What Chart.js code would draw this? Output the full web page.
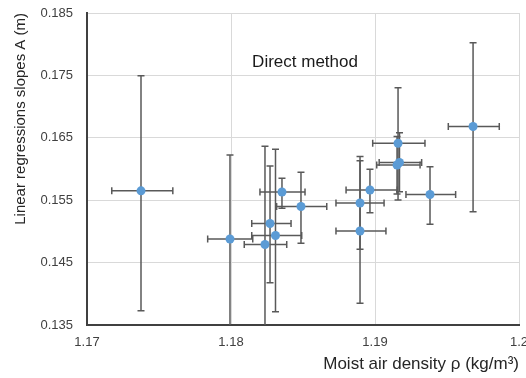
<!DOCTYPE html>
<html>
<head>
<meta charset="utf-8">
<script src="https://cdn.jsdelivr.net/npm/chart.js@4.4.1/dist/chart.umd.min.js"></script>
<style>
  html, body { margin: 0; padding: 0; background: #fff; }
  #wrap { width: 526px; height: 378px; }
</style>
</head>
<body>
<div id="wrap"><canvas id="chart"></canvas></div>
<script>
// moist air density (kg/m3) and slope A (m), with error bar ends
const xVals = [1.17375, 1.17993, 1.18271, 1.18309, 1.18236, 1.18354, 1.18486, 1.19160, 1.19170, 1.19153, 1.18965, 1.18896, 1.18896, 1.19382, 1.19681];
const yVals = [0.1565, 0.14878, 0.15127, 0.14934, 0.1479, 0.15631, 0.15399, 0.16412, 0.16104, 0.16064, 0.15663, 0.15455, 0.15006, 0.15591, 0.16681];
const xLow  = [1.17172, 1.17838, 1.18144, 1.18144, 1.18092, 1.18201, 1.18317, 1.18984, 1.19029, 1.19012, 1.18799, 1.18729, 1.18729, 1.19215, 1.19509];
const xHigh = [1.17596, 1.18151, 1.18417, 1.18491, 1.18387, 1.18514, 1.18665, 1.19347, 1.19324, 1.19313, 1.19155, 1.19063, 1.19076, 1.19560, 1.19863];
const yLow  = [0.13729, 0.1345, 0.14178, 0.13713, 0.1340, 0.15370, 0.14809, 0.15503, 0.15636, 0.1560, 0.1530, 0.14713, 0.13848, 0.15114, 0.15316];
const yHigh = [0.17495, 0.16224, 0.16048, 0.16317, 0.16365, 0.15851, 0.15947, 0.17303, 0.16582, 0.1652, 0.15995, 0.16200, 0.16133, 0.16037, 0.18024];

const xTicks = [1.17, 1.18, 1.19, 1.2];
const xTickLabels = ['1.17', '1.18', '1.19', '1.2'];
const yTicks = [0.135, 0.145, 0.155, 0.165, 0.175, 0.185];
const yTickLabels = ['0.135', '0.145', '0.155', '0.165', '0.175', '0.185'];

const seriesLabel = 'Direct method';

const points = xVals.map((x, i) => ({ x: x, y: yVals[i] }));

// draws x and y error bars under the markers
const errorBars = {
    id: 'errorBars',
    beforeDatasetsDraw(chart) {
        const { ctx, chartArea: a, scales: { x, y } } = chart;
        const cap = 3.5;
        ctx.save();
        ctx.beginPath();
        ctx.rect(a.left, a.top, a.right - a.left, a.bottom - a.top);
        ctx.clip();
        ctx.strokeStyle = '#595959';
        ctx.lineWidth = 1.5;
        for (let i = 0; i < xVals.length; i++) {
            const px = x.getPixelForValue(xVals[i]);
            const py = y.getPixelForValue(yVals[i]);
            const x0 = x.getPixelForValue(xLow[i]);
            const x1 = x.getPixelForValue(xHigh[i]);
            const y0 = y.getPixelForValue(yLow[i]);
            const y1 = y.getPixelForValue(yHigh[i]);
            ctx.beginPath();
            ctx.moveTo(x0, py); ctx.lineTo(x1, py);
            ctx.moveTo(x0, py - cap); ctx.lineTo(x0, py + cap);
            ctx.moveTo(x1, py - cap); ctx.lineTo(x1, py + cap);
            ctx.moveTo(px, y0); ctx.lineTo(px, y1);
            ctx.moveTo(px - cap, y0); ctx.lineTo(px + cap, y0);
            ctx.moveTo(px - cap, y1); ctx.lineTo(px + cap, y1);
            ctx.stroke();
        }
        ctx.restore();
    }
};

// text label inside the plot
const innerLabel = {
    id: 'innerLabel',
    afterDraw(chart) {
        const { ctx, scales: { x, y } } = chart;
        ctx.save();
        ctx.font = '17px "Liberation Sans", Arial, sans-serif';
        ctx.fillStyle = '#1a1a1a';
        ctx.textAlign = 'center';
        ctx.textBaseline = 'middle';
        ctx.fillText(seriesLabel, x.getPixelForValue(1.18514), y.getPixelForValue(0.17715));
        ctx.restore();
    }
};

new Chart(document.getElementById('chart').getContext('2d'), {
    type: 'scatter',
    data: {
        datasets: [{
            label: seriesLabel,
            data: points,
            backgroundColor: '#5B9BD5',
            borderColor: '#5B9BD5',
            borderWidth: 0,
            pointRadius: 4.5,
            pointHoverRadius: 4.5
        }]
    },
    options: {
        responsive: true,
        maintainAspectRatio: false,
        animation: false,
        events: [],
        layout: { padding: { top: 13, right: 7, left: 0, bottom: 0 } },
        plugins: {
            legend: { display: false },
            tooltip: { enabled: false }
        },
        scales: {
            x: {
                type: 'linear',
                min: 1.17,
                max: 1.2,
                afterBuildTicks: (s) => { s.ticks = xTicks.map(v => ({ value: v })); },
                afterFit: (s) => { s.height = 53; s.paddingLeft = 0; s.paddingRight = 0; },
                ticks: {
                    padding: 10,
                    color: '#404040',
                    font: { family: '"Liberation Sans", Arial, sans-serif', size: 13 },
                    maxRotation: 0,
                    callback: (v, i) => xTickLabels[i]
                },
                grid: { color: '#d9d9d9', lineWidth: 1, drawTicks: false },
                border: { color: '#404040', width: 2 },
                title: {
                    display: true,
                    text: 'Moist air density ρ (kg/m³)',
                    align: 'end',
                    color: '#262626',
                    font: { family: '"Liberation Sans", Arial, sans-serif', size: 17 },
                    padding: { top: 4, bottom: 3 }
                }
            },
            y: {
                type: 'linear',
                min: 0.135,
                max: 0.185,
                afterBuildTicks: (s) => { s.ticks = yTicks.map(v => ({ value: v })); },
                afterFit: (s) => { s.width = 87; s.paddingTop = 0; s.paddingBottom = 0; },
                ticks: {
                    padding: 14,
                    color: '#404040',
                    font: { family: '"Liberation Sans", Arial, sans-serif', size: 13 },
                    callback: (v, i) => yTickLabels[i]
                },
                grid: { color: '#d9d9d9', lineWidth: 1, drawTicks: false },
                border: { color: '#404040', width: 2 },
                title: {
                    display: true,
                    text: 'Linear regressions slopes A (m)',
                    align: 'end',
                    color: '#262626',
                    font: { family: '"Liberation Sans", Arial, sans-serif', size: 15 },
                    padding: { top: 12, bottom: 4 }
                }
            }
        }
    },
    plugins: [errorBars, innerLabel]
});
</script>
</body>
</html>
